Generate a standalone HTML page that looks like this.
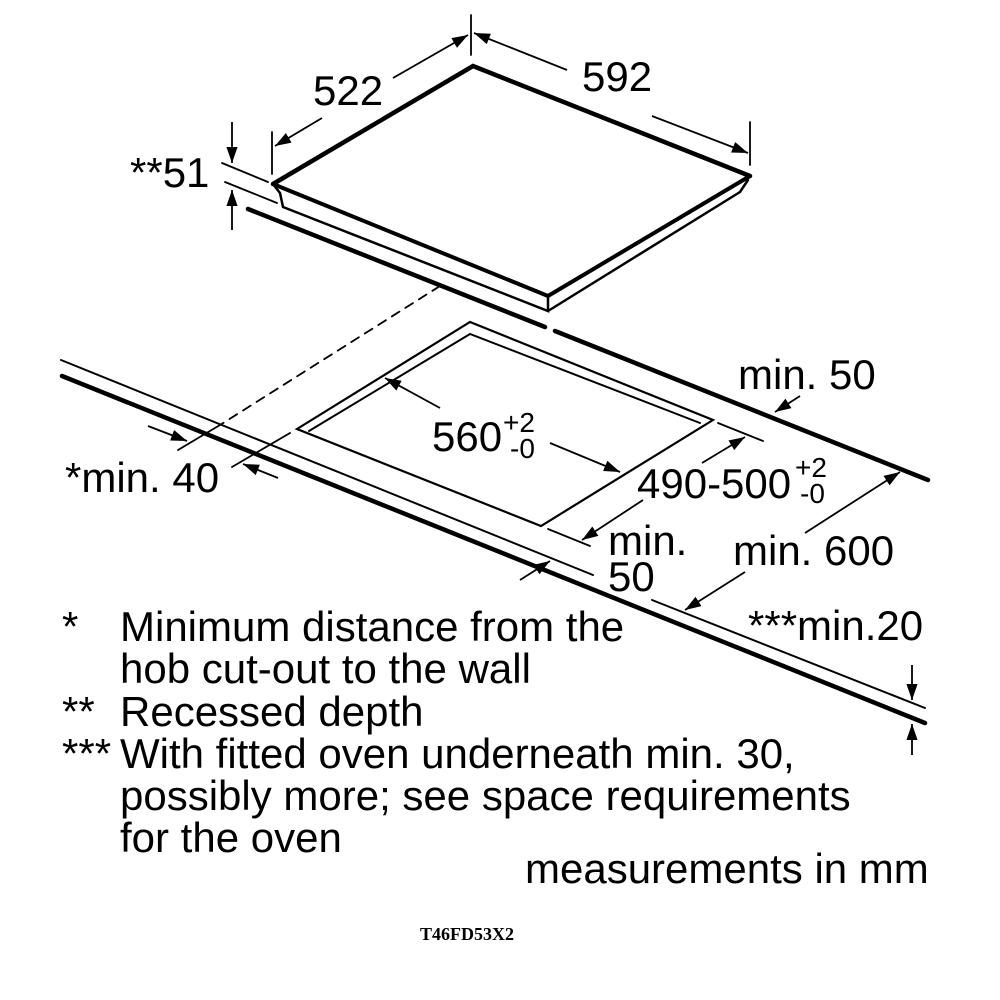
<!DOCTYPE html>
<html><head><meta charset="utf-8"><style>
html,body{margin:0;padding:0;background:#fff}
svg{display:block}
text{font-family:"Liberation Sans",sans-serif;fill:#000}
</style></head><body>
<svg width="1000" height="1000" viewBox="0 0 1000 1000" xmlns="http://www.w3.org/2000/svg">
<defs>
<marker id="a" viewBox="0 0 10 10" refX="10" refY="5" markerWidth="16" markerHeight="16" markerUnits="userSpaceOnUse" orient="auto">
<path d="M0,1.5 L10,5 L0,8.5 Z" fill="#000"/></marker>
</defs>
<g stroke="#000" fill="none" stroke-linecap="round">
<path d="M273,184 L473,66 L750,176 L745,186 L549,305 L285,200 Z" fill="#fff" stroke="none"/>
<path d="M273,184 L473,66 L750,176" stroke-width="4.5"/>
<path d="M273,184 L548,296 L750,176" stroke-width="4"/>
<path d="M273,184 L280,193 L283,207 L548,311 L548,297 M548,311 L740,192 L748,180" stroke-width="2.5"/>
<line x1="248" y1="209" x2="545" y2="327" stroke-width="4.5"/>
<line x1="555" y1="331" x2="928" y2="480" stroke-width="4.5"/>
<line x1="61" y1="360" x2="593" y2="575" stroke-width="2"/>
<line x1="652" y1="600" x2="925" y2="708" stroke-width="2"/>
<line x1="62" y1="376" x2="925" y2="723" stroke-width="4.5"/>
<path d="M297,429 L470,322 L713,420 L541,526 Z" stroke-width="2.2"/>
<path d="M309,431 L470,334 L700,423" stroke-width="2"/>
<line x1="440" y1="286" x2="220" y2="425" stroke-width="1.8" stroke-dasharray="9,7"/>
<line x1="220" y1="425" x2="178" y2="450" stroke-width="1.8"/>
<line x1="290" y1="433" x2="232" y2="467" stroke-width="1.8"/>
<line x1="272" y1="132" x2="272" y2="174" stroke-width="1.8"/>
<line x1="471" y1="15" x2="471" y2="55" stroke-width="1.8"/>
<line x1="750" y1="122" x2="750" y2="165" stroke-width="1.8"/>
<line x1="222" y1="163" x2="268" y2="182" stroke-width="1.8"/>
<line x1="225" y1="182" x2="277" y2="203" stroke-width="1.8"/>
<line x1="718" y1="423" x2="763" y2="441" stroke-width="1.8"/>
<line x1="548" y1="529" x2="590" y2="546" stroke-width="1.8"/>
</g>
<g stroke="#000" stroke-width="1.8" fill="none">
<line x1="393" y1="78" x2="468" y2="35" marker-end="url(#a)"/>
<line x1="322" y1="118" x2="275" y2="146" marker-end="url(#a)"/>
<line x1="567" y1="70" x2="474" y2="33" marker-end="url(#a)"/>
<line x1="652" y1="116" x2="748" y2="153" marker-end="url(#a)"/>
<line x1="232" y1="122" x2="232" y2="163" marker-end="url(#a)"/>
<line x1="232" y1="230" x2="232" y2="190" marker-end="url(#a)"/>
<line x1="800" y1="396" x2="775" y2="412" marker-end="url(#a)"/>
<line x1="440" y1="408" x2="385" y2="378" marker-end="url(#a)"/>
<line x1="550" y1="443" x2="620" y2="472" marker-end="url(#a)"/>
<line x1="702" y1="463" x2="745" y2="437" marker-end="url(#a)"/>
<line x1="643" y1="500" x2="582" y2="540" marker-end="url(#a)"/>
<line x1="520" y1="580" x2="550" y2="561" marker-end="url(#a)"/>
<line x1="805" y1="533" x2="900" y2="472" marker-end="url(#a)"/>
<line x1="745" y1="572" x2="685" y2="610" marker-end="url(#a)"/>
<line x1="148" y1="426" x2="187" y2="441" marker-end="url(#a)"/>
<line x1="278" y1="478" x2="243" y2="464" marker-end="url(#a)"/>
<line x1="912" y1="665" x2="912" y2="700" marker-end="url(#a)"/>
<line x1="912" y1="755" x2="912" y2="724" marker-end="url(#a)"/>
</g>
<g font-size="42">
<text x="313" y="105">522</text>
<text x="582" y="91">592</text>
<text x="130" y="187">**51</text>
<text x="738" y="389">min. 50</text>
<text x="432" y="451">560</text>
<text x="503" y="432" font-size="28">+2</text>
<text x="510" y="458" font-size="28">-0</text>
<text x="637" y="498">490-500</text>
<text x="795" y="477" font-size="28">+2</text>
<text x="800" y="503" font-size="28">-0</text>
<text x="608" y="555">min.</text>
<text x="608" y="591">50</text>
<text x="733" y="565">min. 600</text>
<text x="65" y="492">*min. 40</text>
<text x="748" y="640">***min.20</text>
<text x="62" y="641">*</text>
<text x="120" y="641">Minimum distance from the</text>
<text x="120" y="683">hob cut-out to the wall</text>
<text x="62" y="726">**</text>
<text x="120" y="726">Recessed depth</text>
<text x="62" y="768">***</text>
<text x="120" y="768">With fitted oven underneath min. 30,</text>
<text x="120" y="810">possibly more; see space requirements</text>
<text x="120" y="852">for the oven</text>
<text x="525" y="883">measurements in mm</text>
</g>
<text x="420" y="940" font-size="18" font-weight="bold" style="font-family:'Liberation Serif',serif">T46FD53X2</text>
</svg>
</body></html>
